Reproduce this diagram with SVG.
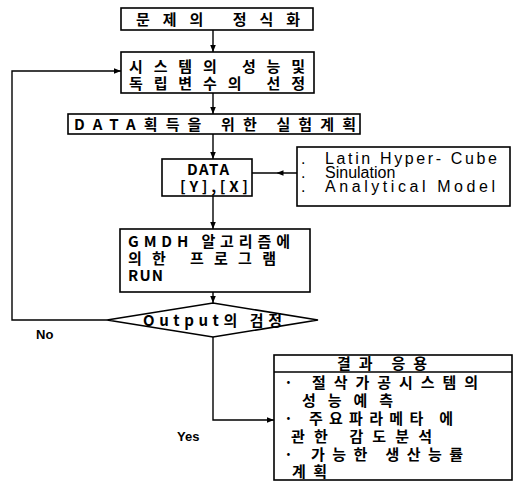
<svg xmlns="http://www.w3.org/2000/svg" width="515" height="482" viewBox="0 0 515 482">
<defs>
<style>
.box{fill:#fff;stroke:#000;stroke-width:1.6}
.ln{fill:none;stroke:#000;stroke-width:1.4}
.k{font-family:"Noto Sans CJK KR","Liberation Sans",sans-serif;font-size:15px;font-weight:bold;fill:#000}
.e{font-family:"Liberation Sans",Arial,sans-serif;font-size:16px;fill:#000}
.lb{font-family:"Liberation Sans",Arial,sans-serif;font-size:13px;font-weight:bold;fill:#000}
</style>
<marker id="ah" viewBox="0 0 10 10" refX="10" refY="5" markerWidth="7" markerHeight="7" markerUnits="userSpaceOnUse" orient="auto">
<path d="M0,1 L10,5 L0,9 z" fill="#000"/>
</marker>
<marker id="am" viewBox="0 0 10 10" refX="5" refY="5" markerWidth="7" markerHeight="7" markerUnits="userSpaceOnUse" orient="auto">
<path d="M0,1 L10,5 L0,9 z" fill="#000"/>
</marker>
</defs>
<rect width="515" height="482" fill="#fff"/>

<g id="connectors">
<path class="ln" d="M213,30 L213,52" marker-end="url(#ah)"/>
<path class="ln" d="M213,93 L213,114" marker-end="url(#ah)"/>
<path class="ln" d="M213,134 L213,159" marker-end="url(#ah)"/>
<path class="ln" d="M297,173 L280,173 L252,173" marker-mid="url(#am)"/>
<path class="ln" d="M213,196 L213,229" marker-end="url(#ah)"/>
<path class="ln" d="M213,292 L213,303" marker-end="url(#ah)"/>
<path class="ln" d="M107,320 L12,320 L12,71 L121,71" marker-end="url(#ah)"/>
<path class="ln" d="M213,337 L213,420 L274,420" marker-end="url(#ah)"/>
<text class="lb" x="36" y="339" font-weight="normal">No</text>
<text class="lb" x="177" y="441">Yes</text>
</g>

<g id="n1">
<rect class="box" x="121" y="8" width="192" height="22"/>
<text class="k" x="136" y="25" textLength="164" lengthAdjust="spacing">문제의 정식화</text>
</g>

<g id="n2">
<rect class="box" x="121" y="52" width="193" height="41"/>
<text class="k" x="129" y="72" textLength="176" lengthAdjust="spacing">시스템의 성능및</text>
<text class="k" x="129" y="89" textLength="176" lengthAdjust="spacing">독립변수의 선정</text>
</g>

<g id="n3">
<rect class="box" x="68" y="114" width="292" height="20"/>
<text class="k" x="74" y="130" textLength="282" lengthAdjust="spacing">DATA획득을 위한 실험계획</text>
</g>

<g id="n4">
<rect class="box" x="162" y="159" width="90" height="37"/>
<text class="k" x="187" y="175" textLength="42" lengthAdjust="spacing">DATA</text>
<text class="k" x="180" y="192" textLength="68" lengthAdjust="spacing">[Y],[X]</text>
</g>

<g id="n5">
<rect class="box" x="297" y="147" width="213" height="59"/>
<text class="e" x="301" y="164">.</text>
<text class="e" x="325" y="164" textLength="172" lengthAdjust="spacing">Latin Hyper- Cube</text>
<text class="e" x="301" y="178">.</text>
<text class="e" x="325" y="178">Sinulation</text>
<text class="e" x="301" y="192">.</text>
<text class="e" x="325" y="192" textLength="170" lengthAdjust="spacing">Analytical Model</text>
</g>

<g id="n6">
<rect class="box" x="120" y="229" width="190" height="63"/>
<text class="k" x="128" y="247" textLength="162" lengthAdjust="spacing">GMDH 알고리즘에</text>
<text class="k" x="128" y="264" textLength="148" lengthAdjust="spacing">의한 프로그램</text>
<text class="k" x="128" y="281" textLength="35" lengthAdjust="spacing">RUN</text>
</g>

<g id="n7">
<polygon class="box" points="107,320 213,303 318,320 213,337"/>
<text class="k" x="143" y="326" textLength="139" lengthAdjust="spacing">Output의 검정</text>
</g>

<g id="n8">
<rect class="box" x="274" y="355" width="238" height="125"/>
<line class="ln" x1="274" y1="372" x2="512" y2="372" stroke-width="2"/>
<text class="k" x="337" y="369" textLength="90" lengthAdjust="spacing">결과 응용</text>
<text class="k" x="284" y="388" textLength="194" lengthAdjust="spacing">· 절삭가공시스템의</text>
<text class="k" x="302" y="406" textLength="91" lengthAdjust="spacing">성능예측</text>
<text class="k" x="284" y="424" textLength="169" lengthAdjust="spacing">· 주요파라메타 에</text>
<text class="k" x="291" y="442" textLength="141" lengthAdjust="spacing">관한 감도분석</text>
<text class="k" x="284" y="460" textLength="179" lengthAdjust="spacing">· 가능한 생산능률</text>
<text class="k" x="292" y="477" textLength="35" lengthAdjust="spacing">계획</text>
</g>
</svg>
